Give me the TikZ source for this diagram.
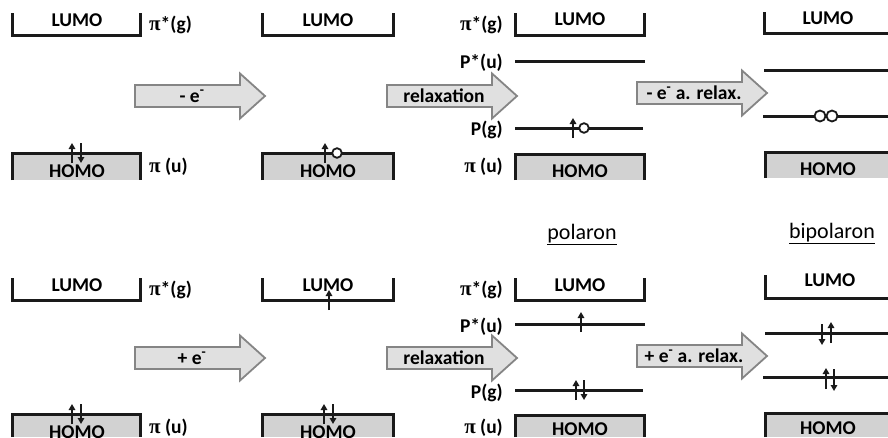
\documentclass[tikz,border=0pt]{standalone}
\usepackage{fontspec}
\setmainfont{Carlito}
\newfontfamily\greekfont{Liberation Serif}
\usetikzlibrary{arrows.meta}

\definecolor{ink}{HTML}{1A1A1A}
\definecolor{homofill}{HTML}{D2D2D2}
\definecolor{arrowfill}{HTML}{E0E0E0}
\definecolor{arrowedge}{HTML}{858585}

\newcommand{\pisym}{{\greekfont\bfseries\fontsize{21}{23}\selectfont π}}

\tikzset{
  orbital/.style={draw=ink, line width=3pt},
  bandfill/.style={fill=homofill},
  lbl/.style={font=\bfseries\fontsize{19.5}{22}\selectfont, inner sep=0pt, anchor=base},
  symleft/.style={lbl, anchor=base west},
  symright/.style={lbl, anchor=base east},
  spinarrow/.style={draw=ink, line width=1.8pt, -{Triangle[width=6.5pt,length=6pt]}},
  holecirc/.style={draw=ink, line width=1.8pt, fill=white},
  transfer/.style={fill=arrowfill, draw=arrowedge, line width=1.8pt},
  statelabel/.style={font=\fontsize{22}{24}\selectfont, inner sep=0pt, anchor=base}
}

% block arrow: name, left x, centre y, label
\newcommand{\transferarrow}[4]{%
  \draw[transfer] (#2,#3-11) -- (#2+105,#3-11) -- (#2+105,#3-22.5) -- (#2+130,#3)
    -- (#2+105,#3+22.5) -- (#2+105,#3+11) -- (#2,#3+11) -- cycle;
  \node[lbl] (#1) at (#2+57,#3+6) {#4};
}

\begin{document}
\begin{tikzpicture}[x=1pt,y=-1pt]
\useasboundingbox (0,0) rectangle (888,437);

%% ---------------- oxidation (upper row) ----------------
% neutral chain
\draw[orbital] (12,13) -- (12,35) -- (140,35) -- (140,13);
\node[lbl] (lumoA) at (77,26) {LUMO};
\node[symleft] (pigA) at (149,30) {\pisym*(g)};
\fill[bandfill] (12,153) rectangle (140,180);
\draw[orbital] (12,180) -- (12,153) -- (140,153) -- (140,180);
\node[lbl] (homoA) at (77,177) {HOMO};
\node[symleft] (piuA) at (149,172) {\pisym\ (u)};
\draw[spinarrow] (72,163) -- (72,143);
\draw[spinarrow] (81,143) -- (81,163);

\transferarrow{oxA}{135}{96}{- e\textsuperscript{-}}

% one electron removed
\draw[orbital] (262,13) -- (262,35) -- (393,35) -- (393,13);
\node[lbl] (lumoB) at (328,26) {LUMO};
\fill[bandfill] (262,153) rectangle (393,180);
\draw[orbital] (262,180) -- (262,153) -- (393,153) -- (393,180);
\node[lbl] (homoB) at (328,177) {HOMO};
\draw[spinarrow] (325,163) -- (325,143);
\draw[holecirc] (337,153) circle (4.8);

\transferarrow{oxB}{387}{96}{relaxation}

% polaron
\node[symright] (pigC) at (503,30) {\pisym*(g)};
\draw[orbital] (515,13) -- (515,35) -- (644,35) -- (644,13);
\node[lbl] (lumoC) at (580,25) {LUMO};
\node[symright] (puC) at (503,68) {P*(u)};
\draw[orbital] (515,61) -- (645,61);
\node[symright] (pgC) at (503,135) {P(g)};
\draw[orbital] (515,128) -- (643,128);
\draw[spinarrow] (573,138) -- (573,118);
\draw[holecirc] (584,128) circle (4.8);
\node[symright] (piuC) at (503,172) {\pisym\ (u)};
\fill[bandfill] (515,154) rectangle (644,180);
\draw[orbital] (515,180) -- (515,154) -- (644,154) -- (644,180);
\node[lbl] (homoC) at (580,177) {HOMO};

\transferarrow{oxC}{637}{93}{- e\textsuperscript{-} a. relax.}

% bipolaron
\draw[orbital] (764,12) -- (764,33) -- (888,33);
\node[lbl] (lumoD) at (828,24) {LUMO};
\draw[orbital] (764,70) -- (888,70);
\draw[orbital] (763,116) -- (888,116);
\draw[holecirc] (820,116) circle (5.5);
\draw[holecirc] (832,116) circle (5.5);
\fill[bandfill] (765,152) rectangle (888,178);
\draw[orbital] (765,178) -- (765,152) -- (888,152);
\node[lbl] (homoD) at (828,175) {HOMO};

%% ---------------- reduction (lower row) ----------------
\node[statelabel] (polaron) at (582,239) {\underline{polaron}};
\node[statelabel] (bipolaron) at (832,238) {\underline{bipolaron}};

% neutral chain
\draw[orbital] (12,278) -- (12,300) -- (140,300) -- (140,278);
\node[lbl] (lumoE) at (77,291) {LUMO};
\node[symleft] (pigE) at (149,295) {\pisym*(g)};
\fill[bandfill] (12,414) rectangle (140,437);
\draw[orbital] (12,437) -- (12,414) -- (140,414) -- (140,437);
\node[lbl] (homoE) at (77,438) {HOMO};
\node[symleft] (piuE) at (149,433) {\pisym\ (u)};
\draw[spinarrow] (72,424) -- (72,404);
\draw[spinarrow] (81,404) -- (81,424);

\transferarrow{redA}{135}{358}{+ e\textsuperscript{-}}

% one electron added
\draw[orbital] (262,278) -- (262,300) -- (393,300) -- (393,278);
\node[lbl] (lumoF) at (328,291) {LUMO};
\draw[spinarrow] (329,310) -- (329,290);
\fill[bandfill] (262,414) rectangle (393,437);
\draw[orbital] (262,437) -- (262,414) -- (393,414) -- (393,437);
\node[lbl] (homoF) at (328,438) {HOMO};
\draw[spinarrow] (324,424) -- (324,404);
\draw[spinarrow] (333,404) -- (333,424);

\transferarrow{redB}{387}{358}{relaxation}

% polaron
\node[symright] (pigG) at (503,295) {\pisym*(g)};
\draw[orbital] (515,278) -- (515,300) -- (644,300) -- (644,278);
\node[lbl] (lumoG) at (580,291) {LUMO};
\node[symright] (puG) at (503,332) {P*(u)};
\draw[orbital] (515,324) -- (645,324);
\draw[spinarrow] (581,332) -- (581,312);
\node[symright] (pgG) at (503,398) {P(g)};
\draw[orbital] (515,390) -- (643,390);
\draw[spinarrow] (576,400) -- (576,380);
\draw[spinarrow] (584,380) -- (584,400);
\node[symright] (piuG) at (503,433) {\pisym\ (u)};
\fill[bandfill] (515,415) rectangle (644,437);
\draw[orbital] (515,437) -- (515,415) -- (644,415) -- (644,437);
\node[lbl] (homoG) at (580,435) {HOMO};

\transferarrow{redC}{637}{356}{+ e\textsuperscript{-} a. relax.}

% bipolaron
\draw[orbital] (765,275) -- (765,298) -- (888,298);
\node[lbl] (lumoH) at (830,286) {LUMO};
\draw[orbital] (765,333) -- (888,333);
\draw[spinarrow] (822,324) -- (822,345);
\draw[spinarrow] (831,343) -- (831,322);
\draw[orbital] (763,377) -- (888,377);
\draw[spinarrow] (826,389) -- (826,368);
\draw[spinarrow] (834,369) -- (834,391);
\fill[bandfill] (765,413) rectangle (888,437);
\draw[orbital] (765,437) -- (765,413) -- (888,413);
\node[lbl] (homoH) at (828,434) {HOMO};
\end{tikzpicture}
\end{document}
